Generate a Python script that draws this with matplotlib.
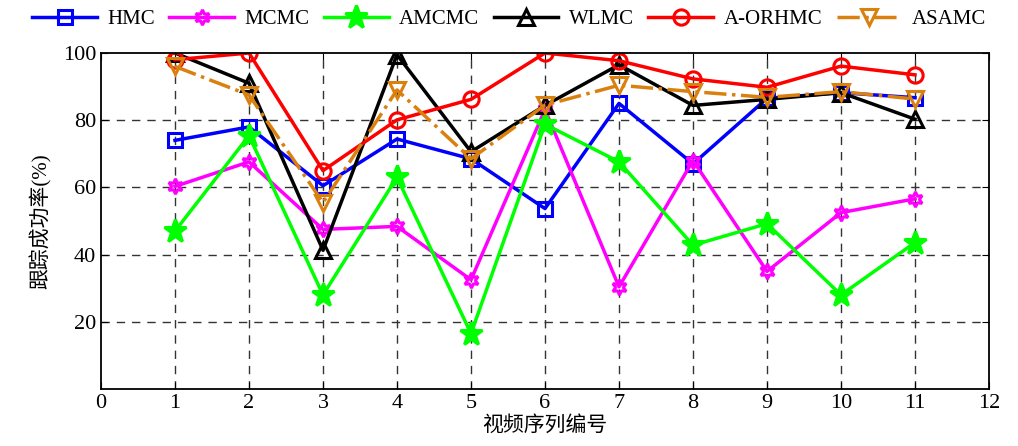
import numpy as np
import matplotlib
matplotlib.use("Agg")
import matplotlib.pyplot as plt

plt.rcParams["font.family"] = ["Liberation Serif", "Noto Sans CJK SC"]

seq = np.arange(1, 12)
hmc = [74, 78, 60.5, 74.4, 68.5, 53.7, 85, 67, 86.5, 88.2, 86.7]
mcmc = [60.3, 67.6, 47.5, 48.4, 32.5, 83.2, 30.4, 68, 35, 52.5, 56.6]
amcmc = [47, 75.4, 28, 63, 16.5, 78.8, 67.6, 42.8, 49.2, 28, 43.6]
wlmc = [100, 91, 41.3, 99.5, 70.6, 84.4, 96.5, 84.4, 86.2, 88.2, 80.3]
aorhmc = [98, 100, 65, 80.1, 86.2, 100, 97.7, 92.3, 89.8, 96.1, 93.5]
asamc = [96, 87.5, 55.5, 89, 68.5, 84.5, 90.4, 88.5, 86.8, 88.5, 86.3]

series = [
    ("HMC", hmc, dict(color="#0000ff", ls="-", marker="s", mfc="none", ms=10)),
    ("MCMC", mcmc, dict(color="#ff00ff", ls="-", marker=(6, 1, 0), mfc="none", ms=11)),
    ("AMCMC", amcmc, dict(color="#00ff00", ls="-", marker="*", mfc="#00ff00", ms=17)),
    ("WLMC", wlmc, dict(color="black", ls="-", marker="^", mfc="none", ms=12)),
    ("A-ORHMC", aorhmc, dict(color="#ff0000", ls="-", marker="o", mfc="none", ms=11)),
    ("ASAMC", asamc, dict(color="#d9800f", ls="-.", marker="v", mfc="none", ms=12)),
]

fig = plt.figure(figsize=(10.18, 4.46), dpi=100)
ax = fig.add_axes([101 / 1018, 1 - 389 / 446, 888 / 1018, 336 / 446])

for name, vals, st in series:
    ax.plot(seq, vals, lw=2.5, mew=2.2, label=name, **st)

ax.set_xlim(0, 12)
ax.set_ylim(0, 100)
ax.set_xticks(range(13))
ax.set_yticks([20, 40, 60, 80, 100])
ax.tick_params(direction="in", top=True, right=True, labelsize=16, length=5)
for sp in ax.spines.values():
    sp.set_linewidth(1.3)
for x in range(1, 12):
    ax.axvline(x, color="#333333", ls=(0, (6, 5)), lw=1, zorder=0)
for y in [20, 40, 60, 80]:
    ax.axhline(y, color="#333333", ls=(0, (6, 5)), lw=1, zorder=0)

ax.set_xlabel("视频序列编号", fontsize=15, labelpad=2)
ax.set_ylabel("跟踪成功率(%)", fontsize=15, labelpad=8)

fig.legend(loc="upper center", bbox_to_anchor=(0.5, 0.998),
           ncol=6, frameon=False, fontsize=15, handlelength=3.1, borderaxespad=0,
           columnspacing=0.7, handletextpad=0.5)

fig.savefig("out.png", dpi=100)
